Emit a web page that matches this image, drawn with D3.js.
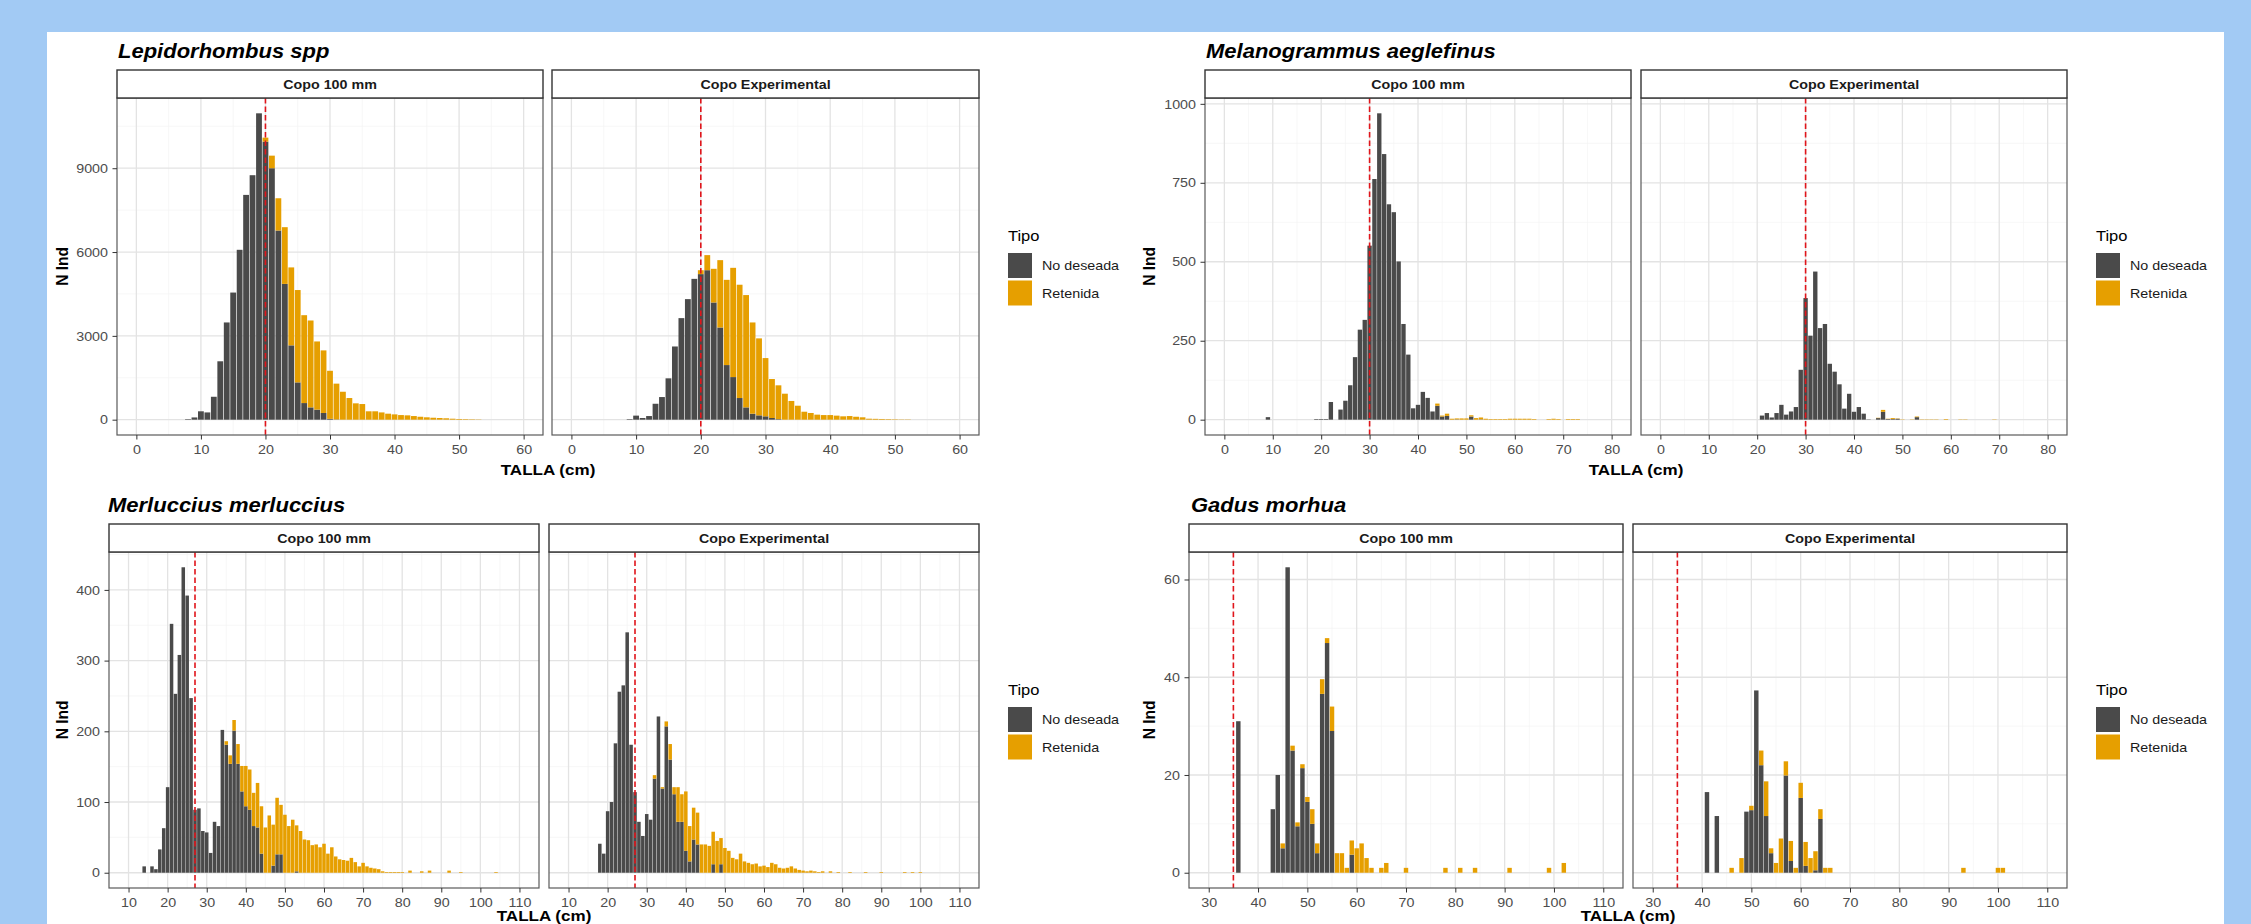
<!DOCTYPE html>
<html>
<head>
<meta charset="utf-8">
<script src="https://cdn.jsdelivr.net/npm/d3@7"></script>
<style>
  html, body { margin: 0; padding: 0; background: #a2caf4; }
  svg { display: block; font-family: "Liberation Sans", Arial, sans-serif; }
</style>
</head>
<body>
<svg id="chart" width="2251" height="924"></svg>
<script>
/* Length-frequency histograms (TALLA, cm) per species, two codends each.
   Stacked counts: "No deseada" at the bottom, "Retenida" on top. */

// ---- labels ----
const facetLabels = ['Copo 100 mm', 'Copo Experimental'];
const tipoLabels = ['No deseada', 'Retenida'];
const speciesTitles = ['Lepidorhombus spp', 'Melanogrammus aeglefinus', 'Merluccius merluccius', 'Gadus morhua'];
const cutoffs = [20, 30, 27, 35];   // dashed red line (cm)

// ---- axis ticks ----
const lepiXTicks = [0, 10, 20, 30, 40, 50, 60];
const lepiYTicks = [0, 3000, 6000, 9000];
const melaXTicks = [0, 10, 20, 30, 40, 50, 60, 70, 80];
const melaYTicks = [0, 250, 500, 750, 1000];
const merlXTicks = [10, 20, 30, 40, 50, 60, 70, 80, 90, 100, 110];
const merlYTicks = [0, 100, 200, 300, 400];
const gadusXTicks = [30, 40, 50, 60, 70, 80, 90, 100, 110];
const gadusYTicks = [0, 20, 40, 60];

// ---- Lepidorhombus spp ----
const lepi100Talla = [8,9,10,11,12,13,14,15,16,17,18,19,20,21,22,23,24,25,26,27,28,29,30,31,32,33,34,35,36,37,38,39,40,41,42,43,44,45,46,47,48,49,50,51,52,53];
const lepi100NoDeseada = [20,80,300,260,820,2090,3480,4550,6080,8045,8750,10965,9950,9000,6770,4860,2660,1335,595,440,360,240,30,10,0,0,0,0,0,0,0,0,0,0,0,0,0,0,0,0,0,0,0,0,0,0];
const lepi100Retenida = [0,0,0,0,0,0,0,0,0,0,0,0,145,450,1155,2030,2790,3305,3145,3110,2440,2240,1720,1280,1000,775,585,560,300,300,260,215,190,165,155,130,105,85,70,60,50,35,25,20,15,10];

const lepiExpTalla = [9,10,11,12,13,14,15,16,17,18,19,20,21,22,23,24,25,26,27,28,29,30,31,32,33,34,35,36,37,38,39,40,41,42,43,44,45,46,47,48,49,50,51,52];
const lepiExpNoDeseada = [20,145,60,130,570,810,1480,2620,3635,4315,5040,5210,5350,4195,3300,1955,1525,775,440,215,155,120,60,20,0,0,0,0,0,0,0,0,0,0,0,0,0,0,0,0,0,0,0,0];
const lepiExpRetenida = [0,0,0,0,0,0,0,0,0,0,0,140,540,1205,2410,3050,3910,4055,4020,3265,2755,2085,1395,1210,930,670,500,285,240,180,165,165,145,120,130,105,85,35,30,25,20,15,10,10];

// ---- Melanogrammus aeglefinus ----
const mela100Talla = [9,19,20,21,22,24,25,26,27,28,29,30,31,32,33,34,35,36,37,38,39,40,41,42,43,44,45,46,47,48,49,50,51,52,53,54,55,56,57,58,59,60,61,62,63,64,67,68,69,71,72,73];
const mela100NoDeseada = [8,2,2,2,56,32,60,109,198,285,316,551,762,970,841,682,657,501,303,206,36,47,88,69,26,44,10,12,0,1,0,0,10,0,1,0,0,0,0,0,0,0,0,0,0,0,0,0,0,0,0,0];
const mela100Retenida = [0,0,0,0,0,0,0,0,0,0,0,0,0,0,0,0,0,0,0,0,0,0,0,0,0,7,3,7,3,3,4,4,4,5,6,3,2,2,2,2,3,3,3,3,3,2,2,3,2,2,2,2];

const melaExpTalla = [21,22,23,24,25,26,27,28,29,30,31,32,33,34,35,36,37,38,39,40,41,42,43,45,46,47,48,49,50,52,53,54,55,56,57,59,62,63,69];
const melaExpNoDeseada = [13,21,7,21,47,16,26,40,158,385,266,469,290,303,177,152,112,35,82,25,40,19,1,5,25,2,2,3,0,0,8,0,0,0,0,0,0,0,0];
const melaExpRetenida = [0,0,0,0,0,0,0,0,0,0,0,0,0,0,0,0,0,0,0,0,0,0,0,1,6,1,3,1,1,1,2,1,1,1,1,2,1,1,1];

// ---- Merluccius merluccius ----
const merl100Talla = [14,16,17,18,19,20,21,22,23,24,25,26,27,28,29,30,31,32,33,34,35,36,37,38,39,40,41,42,43,44,45,46,47,48,49,50,51,52,53,54,55,56,57,58,59,60,61,62,63,64,65,66,67,68,69,70,71,72,73,74,75,76,77,78,79,80,82,85,87,92,95,104];
const merl100NoDeseada = [9,9,5,33,63,121,352,253,308,432,392,247,89,91,59,57,28,72,66,202,181,154,201,154,115,94,89,66,64,27,0,0,10,26,26,0,0,0,2,0,0,0,0,0,0,0,0,0,0,0,0,0,0,0,0,0,0,0,0,0,0,0,0,0,0,0,0,0,0,0,0,0];
const merl100Retenida = [0,0,0,0,0,0,0,0,0,0,0,0,0,0,0,0,0,0,0,0,5,12,15,28,36,57,57,47,63,67,64,81,58,80,70,82,66,75,65,59,47,46,39,40,36,41,27,36,23,19,18,17,21,15,9,14,9,7,6,5,2,1,1,1,1,1,3,2,3,3,1,1];

const merlExpTalla = [18,19,20,21,22,23,24,25,26,27,28,29,30,31,32,33,34,35,36,37,38,39,40,41,42,43,44,45,46,47,48,49,50,51,52,53,54,55,56,57,58,59,60,61,62,63,64,65,66,67,68,69,70,71,72,73,74,75,76,77,78,79,82,86,90,96,98,100];
const merlExpNoDeseada = [41,27,87,100,183,256,265,340,181,114,72,52,83,75,133,221,119,207,160,111,72,72,31,16,47,40,0,0,0,12,0,12,0,0,0,0,0,0,0,0,0,0,0,0,0,0,0,0,0,0,0,0,0,0,0,0,0,0,0,0,0,0,0,0,0,0,0,0];
const merlExpRetenida = [0,0,0,0,0,0,0,0,0,0,0,0,0,0,5,0,2,7,22,10,49,39,84,50,45,45,40,40,38,46,45,37,35,31,21,19,27,16,14,12,13,9,10,8,14,12,7,6,7,9,6,4,3,2,3,2,1,2,0,2,0,1,1,1,1,1,1,1];

// ---- Gadus morhua ----
const gadus100Talla = [36,43,44,45,46,47,48,49,50,51,52,53,54,55,56,57,58,59,60,61,62,63,64,65,66,70,78,81,84,91,99,102];
const gadus100NoDeseada = [31,13,20,5,62.5,25,9.5,21.4,14.5,10,4,36.6,47,29,0,0,0,3.7,0,0,0,0,0,0,0,0,0,0,0,0,0,0];
const gadus100Retenida = [0,0,0,1,0,1,0.8,0.8,1,3,2,3,1,5,4,4,1,2.9,5,6,3,1,0,1,2,1,1,1,1,1,1,2];

const gadusExpTalla = [41,43,46,48,49,50,51,52,53,54,55,56,57,58,59,60,61,62,63,64,65,66,93,100,101];
const gadusExpNoDeseada = [16.5,11.6,0,0,12.5,12.8,37.3,22,11.6,4,0,0,19.9,2.4,0,15.3,1.4,0,0.5,11,0,0,0,0,0];
const gadusExpRetenida = [0,0,1,3,0,0.9,0,3,7.1,1,2,7,2.9,4.1,1,3.1,4.9,3,3.9,2,1,1,1,1,1];

// ---- layout ----
const W = 2251, H = 924;
const SX = 1.1;                       // the reference is stretched horizontally
const COL_NO = '#4a4a4a', COL_RET = '#E69F00';
const rows = [
  { titleY: 58,  stripTop: 70,  plotTop: 98,  plotBot: 435, legendY: 241, xTitleY: 475 },
  { titleY: 512, stripTop: 524, plotTop: 552, plotBot: 888, legendY: 695, xTitleY: 921 }
];

const charts = [
  { title: speciesTitles[0], row: 0, titleX: 118, yTitleX: 63, legendX: 1008, xLim: [0, 60], xTicks: lepiXTicks, yTicks: lepiYTicks, cut: cutoffs[0],
    panels: [ { x0: 117, x1: 543, talla: lepi100Talla, no: lepi100NoDeseada, ret: lepi100Retenida },
              { x0: 552, x1: 979, talla: lepiExpTalla, no: lepiExpNoDeseada, ret: lepiExpRetenida } ] },
  { title: speciesTitles[1], row: 0, titleX: 1206, yTitleX: 1150, legendX: 2096, xLim: [0, 80], xTicks: melaXTicks, yTicks: melaYTicks, cut: cutoffs[1],
    panels: [ { x0: 1205, x1: 1631, talla: mela100Talla, no: mela100NoDeseada, ret: mela100Retenida },
              { x0: 1641, x1: 2067, talla: melaExpTalla, no: melaExpNoDeseada, ret: melaExpRetenida } ] },
  { title: speciesTitles[2], row: 1, titleX: 108, yTitleX: 63, legendX: 1008, xLim: [10, 110], xTicks: merlXTicks, yTicks: merlYTicks, cut: cutoffs[2],
    panels: [ { x0: 109, x1: 539, talla: merl100Talla, no: merl100NoDeseada, ret: merl100Retenida },
              { x0: 549, x1: 979, talla: merlExpTalla, no: merlExpNoDeseada, ret: merlExpRetenida } ] },
  { title: speciesTitles[3], row: 1, titleX: 1191, yTitleX: 1150, legendX: 2096, xLim: [30, 110], xTicks: gadusXTicks, yTicks: gadusYTicks, cut: cutoffs[3],
    panels: [ { x0: 1189, x1: 1623, talla: gadus100Talla, no: gadus100NoDeseada, ret: gadus100Retenida },
              { x0: 1633, x1: 2067, talla: gadusExpTalla, no: gadusExpNoDeseada, ret: gadusExpRetenida } ] }
];

const svg = d3.select('#chart');
svg.append('rect').attr('width', W).attr('height', H).attr('fill', '#a2caf4');
svg.append('rect').attr('x', 47).attr('y', 32).attr('width', 2224 - 47).attr('height', H - 32).attr('fill', '#fff');

function label(g, x, y, s, o){
  o = o || {};
  return g.append('text')
    .attr('transform', 'translate(' + x + ',' + y + ') scale(' + SX + ',1)' + (o.rotate ? ' rotate(' + o.rotate + ')' : ''))
    .attr('text-anchor', o.anchor || 'start')
    .attr('font-size', o.size || 13)
    .attr('font-weight', o.weight || 'normal')
    .attr('font-style', o.style || 'normal')
    .attr('fill', o.fill || '#000')
    .text(s);
}

function minorOf(ticks, dom){
  const step = ticks[1] - ticks[0], out = [];
  for(let v = ticks[0] - step / 2; v <= ticks[ticks.length - 1] + step / 2 + 1e-9; v += step){
    if(v > dom[0] && v < dom[1]) out.push(v);
  }
  return out;
}

charts.forEach(c => {
  const r = rows[c.row];
  const g = svg.append('g');

  // shared y scale (ggplot: 5% expansion around 0..max stacked total)
  const ymax = d3.max(c.panels, p => d3.max(p.talla, (t, i) => p.no[i] + p.ret[i]));
  const yDom = [-0.05 * ymax, 1.05 * ymax];
  const span = c.xLim[1] - c.xLim[0];
  const xDom = [c.xLim[0] - 0.05 * span, c.xLim[1] + 0.05 * span];

  label(g, c.titleX, r.titleY, c.title, { size: 20, weight: 'bold', style: 'italic' });

  c.panels.forEach((p, pi) => {
    const x = d3.scaleLinear().domain(xDom).range([p.x0, p.x1]);
    const y = d3.scaleLinear().domain(yDom).range([r.plotBot, r.plotTop]);
    const pg = g.append('g');

    // grid
    pg.selectAll('line.xmin').data(minorOf(c.xTicks, xDom)).join('line')
      .attr('x1', d => x(d)).attr('x2', d => x(d)).attr('y1', r.plotTop).attr('y2', r.plotBot)
      .attr('stroke', '#f3f3f3').attr('stroke-width', 0.7);
    pg.selectAll('line.ymin').data(minorOf(c.yTicks, yDom)).join('line')
      .attr('x1', p.x0).attr('x2', p.x1).attr('y1', d => y(d)).attr('y2', d => y(d))
      .attr('stroke', '#f3f3f3').attr('stroke-width', 0.7);
    pg.selectAll('line.xmaj').data(c.xTicks).join('line')
      .attr('x1', d => x(d)).attr('x2', d => x(d)).attr('y1', r.plotTop).attr('y2', r.plotBot)
      .attr('stroke', '#e3e3e3').attr('stroke-width', 1.3);
    pg.selectAll('line.ymaj').data(c.yTicks).join('line')
      .attr('x1', p.x0).attr('x2', p.x1).attr('y1', d => y(d)).attr('y2', d => y(d))
      .attr('stroke', '#e3e3e3').attr('stroke-width', 1.3);

    // stacked bars
    const rowsData = p.talla.map((t, i) => ({ t, no: p.no[i], ret: p.ret[i] }));
    const bw = d => x(d.t + 0.45) - x(d.t - 0.45);
    pg.selectAll('rect.no').data(rowsData.filter(d => d.no > 0)).join('rect')
      .attr('x', d => x(d.t - 0.45)).attr('width', bw)
      .attr('y', d => y(d.no)).attr('height', d => y(0) - y(d.no))
      .attr('fill', COL_NO);
    pg.selectAll('rect.ret').data(rowsData.filter(d => d.ret > 0)).join('rect')
      .attr('x', d => x(d.t - 0.45)).attr('width', bw)
      .attr('y', d => y(d.no + d.ret)).attr('height', d => y(d.no) - y(d.no + d.ret))
      .attr('fill', COL_RET);

    // cutoff line
    pg.append('line')
      .attr('x1', x(c.cut)).attr('x2', x(c.cut)).attr('y1', r.plotTop).attr('y2', r.plotBot)
      .attr('stroke', '#e0151b').attr('stroke-width', 1.6).attr('stroke-dasharray', '5.5,3');

    // panel border
    pg.append('rect').attr('x', p.x0).attr('y', r.plotTop)
      .attr('width', p.x1 - p.x0).attr('height', r.plotBot - r.plotTop)
      .attr('fill', 'none').attr('stroke', '#5a5a5a').attr('stroke-width', 1.2);

    // strip
    pg.append('rect').attr('x', p.x0).attr('y', r.stripTop)
      .attr('width', p.x1 - p.x0).attr('height', r.plotTop - r.stripTop)
      .attr('fill', '#fff').attr('stroke', '#333').attr('stroke-width', 1.4);
    label(pg, (p.x0 + p.x1) / 2, r.stripTop + 19, facetLabels[pi], { size: 13, weight: 'bold', anchor: 'middle', fill: '#1a1a1a' });

    // x axis
    const xa = pg.append('g').attr('transform', 'translate(0,' + r.plotBot + ')')
      .call(d3.axisBottom(x).tickValues(c.xTicks).tickSize(4.5).tickPadding(5.3).tickFormat(d3.format('d')));
    xa.select('.domain').remove();
    xa.selectAll('.tick line').attr('stroke', '#333');
    xa.selectAll('.tick text').attr('fill', '#4d4d4d').attr('font-size', 13)
      .attr('font-family', '"Liberation Sans", Arial, sans-serif').attr('transform', 'scale(' + SX + ',1)');

    // y axis on the first facet only
    if(pi === 0){
      const ya = pg.append('g').attr('transform', 'translate(' + p.x0 + ',0)')
        .call(d3.axisLeft(y).tickValues(c.yTicks).tickSize(4.5).tickPadding(3.7).tickFormat(d3.format('d')));
      ya.select('.domain').remove();
      ya.selectAll('.tick line').attr('stroke', '#333');
      ya.selectAll('.tick text').attr('fill', '#4d4d4d').attr('font-size', 13)
        .attr('font-family', '"Liberation Sans", Arial, sans-serif').attr('transform', 'scale(' + SX + ',1)');
    }
  });

  // axis titles
  const pl = c.panels[0], pr = c.panels[1];
  label(g, (pl.x0 + pr.x1) / 2, r.xTitleY, 'TALLA (cm)', { size: 15.5, weight: 'bold', anchor: 'middle' });
  label(g, c.yTitleX + 5, (r.plotTop + r.plotBot) / 2, 'N Ind', { size: 15.5, weight: 'bold', anchor: 'middle', rotate: -90 });

  // legend
  const lg = g.append('g');
  label(lg, c.legendX, r.legendY, 'Tipo', { size: 15 });
  [COL_NO, COL_RET].forEach((col, i) => {
    const ky = r.legendY + 12 + i * 27.5;
    lg.append('rect').attr('x', c.legendX).attr('y', ky).attr('width', 24).attr('height', 25).attr('fill', col);
    label(lg, c.legendX + 34, ky + 17, tipoLabels[i], { size: 13, fill: '#1a1a1a' });
  });
});
</script>
</body>
</html>
